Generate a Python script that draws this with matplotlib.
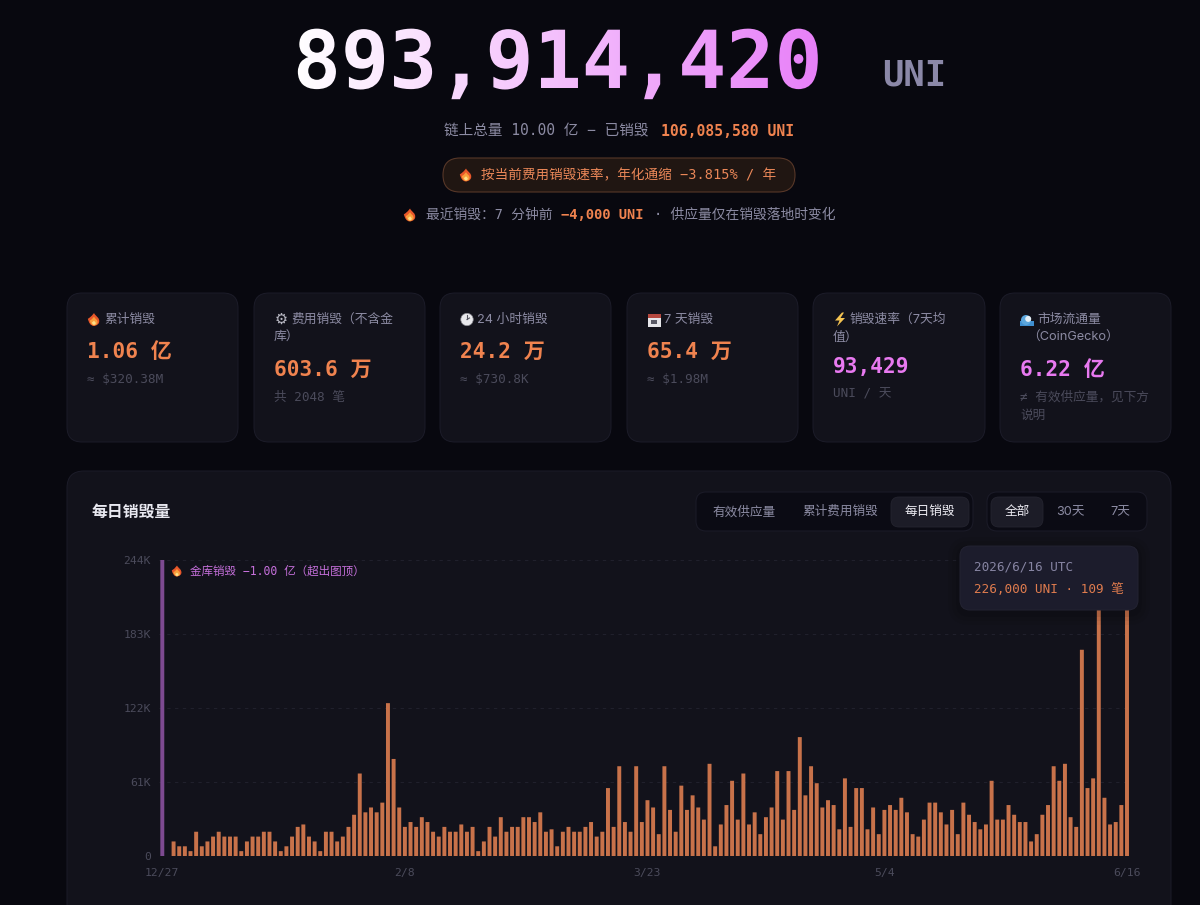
import numpy as np
import matplotlib
matplotlib.use('Agg')
import matplotlib.pyplot as plt
from matplotlib.patches import FancyBboxPatch, Circle, Rectangle, PathPatch, Polygon
from matplotlib.path import Path
from matplotlib.patheffects import AbstractPathEffect
from matplotlib.transforms import Bbox

MONO = ['DejaVu Sans Mono', 'Noto Sans CJK SC']
SANS = ['Inter', 'Noto Sans CJK SC']
plt.rcParams['font.family'] = MONO
plt.rcParams['axes.unicode_minus'] = False

# 每日销毁量 (千 UNI), 12/27 起, 第 0 天是金库销毁单独画
daily_k = [0, 0,
           12, 8, 8, 4, 20, 8, 12, 16, 20, 16, 16, 16, 4, 12, 16, 16, 20, 20, 12, 4, 8, 16, 24, 26, 16, 12, 4,
           20, 20, 12, 16, 24, 34, 68, 36, 40, 36, 44, 126, 80, 40, 24, 28, 24, 32, 28, 20, 16, 24, 20, 20, 26,
           20, 24, 4, 12, 24,
           16, 32, 20, 24, 24, 32, 32, 28, 36, 20, 22, 8, 20, 24, 20, 20, 24, 28, 16, 20, 56, 24, 74, 28, 20,
           74, 28, 46, 40, 18, 74, 38, 20, 58, 38, 50, 40, 30, 76, 8, 26, 42, 62, 30, 68, 26, 36, 18, 32, 40,
           70, 30, 70, 38, 98, 50, 74, 60,
           40, 46, 42, 22, 64, 24, 56, 56, 22, 40, 18, 38, 42, 38, 48, 36, 18, 16, 30, 44, 44, 36, 26, 38, 18,
           44, 34, 28, 22, 26, 62, 30, 30, 42, 34, 28, 28, 12, 18, 34, 42, 74, 62, 76, 32, 24, 170, 56, 64, 216,
           48, 26, 28, 42, 226]
treasury_day = [0]
treasury_burn = [100000000]
y_ticks = [0, 61000, 122000, 183000, 244000]
y_labels = ['0', '61K', '122K', '183K', '244K']
x_ticks = [0, 43, 86, 128, 171]
x_labels = ['12/27', '2/8', '3/23', '5/4', '6/16']

# 顶部卡片
card_left = [67, 254, 440, 627, 813, 1000]
card_right = [238, 425, 611, 798, 985, 1171]
card_titles = ['累计销毁', '费用销毁（不含金\n库）', '24 小时销毁', '7 天销毁', '销毁速率（7天均\n值）', '市场流通量\n（CoinGecko）']
card_values = ['1.06 亿', '603.6 万', '24.2 万', '65.4 万', '93,429', '6.22 亿']
card_subs = ['≈ $320.38M', '共 2048 笔', '≈ $730.8K', '≈ $1.98M', 'UNI / 天', '≠ 有效供应量，见下方\n说明']

BG = '#08080f'
PANEL = '#12121b'
EDGE = '#1c1c29'
ORANGE = '#f0834f'
PINK = '#e879f0'
GREY = '#8c8ba3'
DIM = '#4b4b5b'
BAR = '#c8724a'


class GradientFill(AbstractPathEffect):
    # 大数字的渐变, 一条一条裁剪着画
    def __init__(self, x0, x1, c0, c1):
        super().__init__()
        self.x0, self.x1 = x0, x1
        self.c0 = np.array(matplotlib.colors.to_rgb(c0))
        self.c1 = np.array(matplotlib.colors.to_rgb(c1))

    def draw_path(self, renderer, gc, tpath, affine, rgbFace=None):
        gc0 = renderer.new_gc()
        gc0.copy_properties(gc)
        for x in range(self.x0 - 4, self.x1 + 4, 2):
            t = np.clip((x - self.x0) / (self.x1 - self.x0), 0, 1)
            gc0.set_clip_rectangle(Bbox([[x, 0], [x + 2, 905]]))
            renderer.draw_path(gc0, tpath, affine, tuple(self.c0 + (self.c1 - self.c0) * t))
        gc0.restore()


def rbox(ax, x0, y0, x1, y1, r, fc, ec='none', lw=0.7, **kw):
    p = FancyBboxPatch((x0 + r, y0 + r), x1 - x0 - 2 * r, y1 - y0 - 2 * r,
                       boxstyle=f'round,pad={r},rounding_size={r}', fc=fc, ec=ec, lw=lw, **kw)
    ax.add_patch(p)
    return p


def flame(ax, cx, cy, s=6.5):
    def drop(c, k, dy):
        verts = [(0, -1), (0.25, -0.45), (0.95, -0.3), (0.78, 0.45), (0.62, 0.95), (0, 1),
                 (0, 1), (-0.62, 0.95), (-0.78, 0.45), (-0.95, -0.1), (-0.3, -0.5), (0, -1), (0, -1)]
        codes = [Path.MOVETO] + [Path.CURVE4] * 12
        pts = [(cx + x * s * k, cy + dy + y * s * k) for x, y in verts]
        ax.add_patch(PathPatch(Path(pts, codes), fc=c, ec='none'))
    drop('#e8572a', 1.0, 0)
    drop('#f9a03c', 0.68, 1.6)
    drop('#fde08a', 0.33, 3.2)


def gear(ax, cx, cy):
    ax.text(cx, cy, '\u2699', family='DejaVu Sans', fontsize=10.5, color='#b9b9c4', ha='center', va='center')


def clock(ax, cx, cy):
    ax.add_patch(Circle((cx, cy), 6.2, fc='#e8e8ec', ec='#8a8a92', lw=0.5))
    ax.plot([cx, cx], [cy, cy - 4], color='#555560', lw=0.8)
    ax.plot([cx, cx + 2.5], [cy, cy - 1.5], color='#555560', lw=0.8)


def calendar(ax, cx, cy):
    ax.add_patch(Rectangle((cx - 6.5, cy - 6), 13, 13, fc='#e6e6ea', ec='none'))
    ax.add_patch(Rectangle((cx - 6.5, cy - 6), 13, 4, fc='#b5483f', ec='none'))
    ax.add_patch(Rectangle((cx - 3, cy), 6, 4.5, fc='#5a5a66', ec='none'))


def bolt(ax, cx, cy):
    pts = np.array([(2, -7), (-5, 1), (-0.5, 1), (-3, 7), (5, -1.5), (0.5, -1.5), (4, -7)], dtype=float)
    ax.add_patch(Polygon(pts + [cx, cy], closed=True, fc='#f5c451', ec='none'))


def wave(ax, cx, cy):
    ax.add_patch(Rectangle((cx - 7, cy + 1), 14, 5, fc='#3f8fd0', ec='none'))
    ax.add_patch(Circle((cx - 1, cy + 0.5), 5, fc='#5ba6dd', ec='none'))
    ax.add_patch(Circle((cx + 1.2, cy - 0.6), 3, fc='#e4eef5', ec='none'))


fig = plt.figure(figsize=(12, 9.05), dpi=100, facecolor=BG)


def pixel_axes(z):
    a = fig.add_axes([0, 0, 1, 1], zorder=z)
    a.set_xlim(0, 1200)
    a.set_ylim(905, 0)
    a.axis('off')
    return a


back = pixel_axes(0)
front = pixel_axes(3)

# 顶部大数字
big = back.text(557.5, 66, '893,914,420', fontsize=57.6, fontweight='bold', ha='center', va='center', color='white')
big.set_path_effects([GradientFill(292, 823, '#ffffff', '#e77ef8')])
back.text(914, 76, 'UNI', fontsize=25.6, fontweight='bold', color='#8b88a8', ha='center', va='center')

back.text(444, 131, '链上总量 10.00 亿 − 已销毁', fontsize=10.5, color=GREY, ha='left', va='center')
back.text(661, 131, '106,085,580 UNI', fontsize=10.6, color=ORANGE, fontweight='bold', ha='left', va='center')

rbox(back, 443, 158, 795, 192, 17, '#201612', '#573728', 0.8)
flame(back, 466, 175)
back.text(481, 175, '按当前费用销毁速率，年化通缩 −3.815% / 年', fontsize=9.8, color='#ea8758', ha='left', va='center')

flame(back, 410, 215)
back.text(426, 215, '最近销毁：7 分钟前', fontsize=9.9, color=GREY, ha='left', va='center')
back.text(561, 215, '−4,000 UNI', fontsize=9.9, color=ORANGE, fontweight='bold', ha='left', va='center')
back.text(654, 215, '· 供应量仅在销毁落地时变化', fontsize=9.9, color=GREY, ha='left', va='center')

# 卡片
icons = [flame, gear, clock, calendar, bolt, wave]
for i, (l, r) in enumerate(zip(card_left, card_right)):
    rbox(back, l, 293, r, 442, 15, PANEL, EDGE)
    icons[i](back, l + 27, 319.5)
    lines = card_titles[i].split('\n')
    back.text(l + 37, 320, lines[0], family=SANS, fontsize=9.2, color=GREY, ha='left', va='center')
    if len(lines) > 1:
        back.text(l + 20 if i != 5 else l + 27, 338, lines[1], family=SANS, fontsize=9.2, color=GREY, ha='left', va='center')
    vy = 370 if len(lines) > 1 else 352
    if i == 4:
        vy = 367
    back.text(l + 20, vy, card_values[i], fontsize=15.2, fontweight='bold',
              color=PINK if i >= 4 else ORANGE, ha='left', va='center')
    subs = card_subs[i].split('\n')
    sy = vy + 27
    for k, s in enumerate(subs):
        back.text(l + 20, sy + k * 18.5, s, fontsize=9.1, color=DIM, ha='left', va='center')

# 图表面板
rbox(back, 67, 471, 1171, 960, 17, PANEL, EDGE)
back.text(92, 512, '每日销毁量', family=SANS, fontsize=11.4, fontweight='bold', color='#e8e8f0', ha='left', va='center')

rbox(back, 696, 492, 973, 531, 10, '#0b0b14', EDGE)
rbox(back, 891, 497, 969, 527, 8, '#1c1c27', '#24242f', 0.6)
rbox(back, 987, 492, 1147, 531, 10, '#0b0b14', EDGE)
rbox(back, 991, 497, 1043, 527, 8, '#1c1c27', '#24242f', 0.6)
btn_text = [('有效供应量', 744.5, False), ('累计费用销毁', 840, False), ('每日销毁', 930, True),
            ('全部', 1017, True), ('30天', 1070, False), ('7天', 1120, False)]
for s, cx, on in btn_text:
    back.text(cx, 512, s, family=SANS, fontsize=9.1, color='#ecebf2' if on else GREY, ha='center', va='center')

# 柱状图
px_day = (1127 - 162.3) / 171
ax_left = 162.3 - 0.5 * px_day
ax_right = 1127 + 0.5 * px_day
ax = fig.add_axes([ax_left / 1200, 1 - 856 / 905, (ax_right - ax_left) / 1200, (856 - 560) / 905], zorder=1)
ax.patch.set_alpha(0)
days = np.arange(len(daily_k))
daily = np.array(daily_k) * 1000
ax.bar(days, daily, width=0.7, color=BAR, zorder=3, snap=False)
ax.bar(treasury_day, treasury_burn, width=0.7, color='#7d4a91', zorder=3, snap=False)
ax.set_xlim(-0.5, 171.5)
ax.set_ylim(0, 244000)
ax.set_yticks(y_ticks)
ax.set_yticklabels(y_labels)
ax.set_xticks(x_ticks)
ax.set_xticklabels(x_labels)
ax.tick_params(axis='both', length=0, labelsize=8.2, labelcolor=DIM)
ax.tick_params(axis='y', pad=6)
ax.tick_params(axis='x', pad=8.5)
ax.grid(axis='y', color='#20202c', linestyle=(0, (3, 4)), linewidth=0.8, zorder=0)
ax.set_axisbelow(True)
for s in ax.spines.values():
    s.set_visible(False)

flame(front, 177, 571, 5.5)
front.text(190, 571, '金库销毁 −1.00 亿（超出图顶）', fontsize=8.3, color='#c670dc', ha='left', va='center')

# 提示框
for grow, alpha in [(12, 0.04), (8, 0.05), (4, 0.07)]:
    rbox(front, 960 - grow, 546 - grow + 3, 1138 + grow, 610 + grow + 3, 10 + grow, '#000000', alpha=alpha)
rbox(front, 960, 546, 1138, 610, 10, '#1c1c2c', '#232332', 0.7)
front.text(974, 567, '2026/6/16 UTC', fontsize=9.1, color='#8785a3', ha='left', va='center')
front.text(974, 589, '226,000 UNI · 109 笔', fontsize=9.1, color='#e07c4e', ha='left', va='center')

fig.savefig('out.png', dpi=100, facecolor=BG)
